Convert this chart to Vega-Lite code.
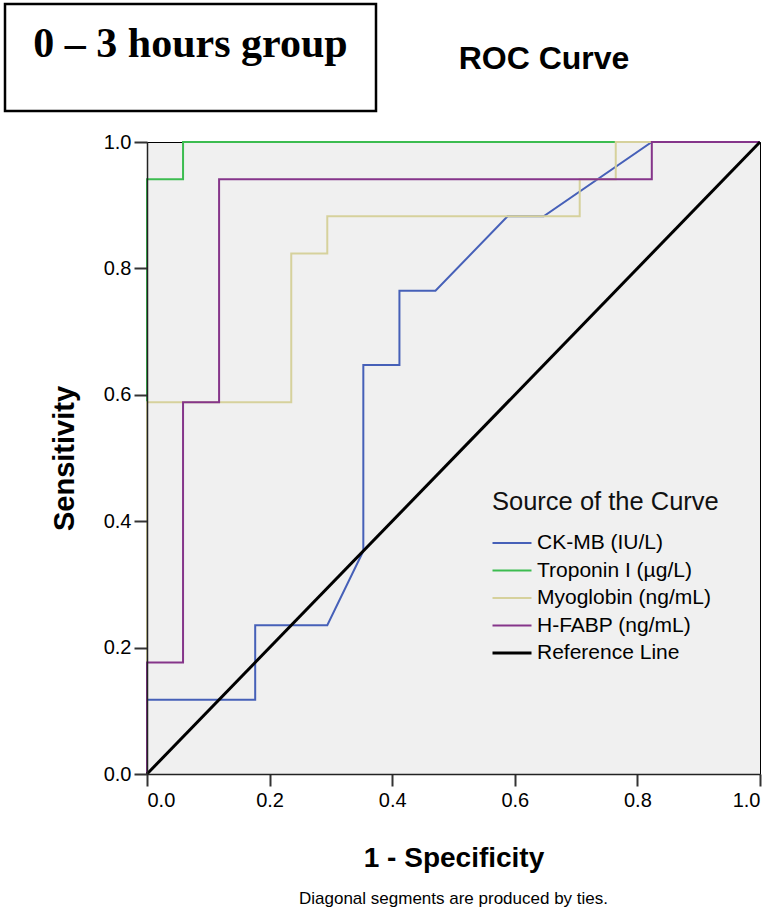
{
  "$schema": "https://vega.github.io/schema/vega-lite/v6.json",
  "padding": {"left": 3, "top": 2, "right": 0, "bottom": 0},
  "background": "white",
  "spacing": 18,
  "config": {"font": "Liberation Sans"},
  "vconcat": [
    {
      "spacing": 10,
      "hconcat": [
        {
          "width": 371,
          "height": 107,
          "view": {"stroke": "#000", "strokeWidth": 2.5, "fill": "white"},
          "data": {"values": [{"label": "0 – 3 hours group"}]},
          "mark": {"type": "text", "font": "Liberation Serif", "fontWeight": "bold", "fontSize": 42, "dy": -14, "color": "#000"},
          "encoding": {"text": {"field": "label"}}
        },
        {
          "width": 312,
          "height": 107,
          "view": {"stroke": null},
          "data": {"values": [{"label": "ROC Curve"}]},
          "mark": {"type": "text", "font": "Liberation Sans", "fontWeight": "bold", "fontSize": 32, "dy": 1, "color": "#000"},
          "encoding": {"text": {"field": "label"}}
        }
      ]
    },
    {
      "spacing": 0,
      "hconcat": [
        {
          "width": 44,
          "height": 1,
          "view": {"stroke": null},
          "data": {"values": [{"label": ""}]},
          "mark": {"type": "text"},
          "encoding": {"text": {"field": "label"}}
        },
        {
          "width": 613,
          "height": 632,
          "view": {"stroke": "#000", "strokeWidth": 1, "fill": "#F0F0F0"},
          "title": {
            "text": "Diagonal segments are produced by ties.",
            "orient": "bottom",
            "anchor": "middle",
            "frame": "group",
            "font": "Liberation Sans",
            "fontSize": 17,
            "fontWeight": "normal",
            "color": "#000",
            "offset": 19
          },
          "data": {
            "values": [
              {"series": "CK-MB (IU/L)", "i": 0, "fpr": 0, "tpr": 0},
              {"series": "CK-MB (IU/L)", "i": 1, "fpr": 0, "tpr": 0.1176},
              {"series": "CK-MB (IU/L)", "i": 2, "fpr": 0.1765, "tpr": 0.1176},
              {"series": "CK-MB (IU/L)", "i": 3, "fpr": 0.1765, "tpr": 0.2353},
              {"series": "CK-MB (IU/L)", "i": 4, "fpr": 0.2941, "tpr": 0.2353},
              {"series": "CK-MB (IU/L)", "i": 5, "fpr": 0.3529, "tpr": 0.3529},
              {"series": "CK-MB (IU/L)", "i": 6, "fpr": 0.3529, "tpr": 0.6471},
              {"series": "CK-MB (IU/L)", "i": 7, "fpr": 0.4118, "tpr": 0.6471},
              {"series": "CK-MB (IU/L)", "i": 8, "fpr": 0.4118, "tpr": 0.7647},
              {"series": "CK-MB (IU/L)", "i": 9, "fpr": 0.4706, "tpr": 0.7647},
              {"series": "CK-MB (IU/L)", "i": 10, "fpr": 0.5882, "tpr": 0.8824},
              {"series": "CK-MB (IU/L)", "i": 11, "fpr": 0.6471, "tpr": 0.8824},
              {"series": "CK-MB (IU/L)", "i": 12, "fpr": 0.8235, "tpr": 1},
              {"series": "CK-MB (IU/L)", "i": 13, "fpr": 1, "tpr": 1},
              {"series": "Troponin I (µg/L)", "i": 0, "fpr": 0, "tpr": 0},
              {"series": "Troponin I (µg/L)", "i": 1, "fpr": 0, "tpr": 0.9412},
              {"series": "Troponin I (µg/L)", "i": 2, "fpr": 0.0588, "tpr": 0.9412},
              {"series": "Troponin I (µg/L)", "i": 3, "fpr": 0.0588, "tpr": 1},
              {"series": "Troponin I (µg/L)", "i": 4, "fpr": 1, "tpr": 1},
              {"series": "Myoglobin (ng/mL)", "i": 0, "fpr": 0, "tpr": 0},
              {"series": "Myoglobin (ng/mL)", "i": 1, "fpr": 0, "tpr": 0.5882},
              {"series": "Myoglobin (ng/mL)", "i": 2, "fpr": 0.2353, "tpr": 0.5882},
              {"series": "Myoglobin (ng/mL)", "i": 3, "fpr": 0.2353, "tpr": 0.8235},
              {"series": "Myoglobin (ng/mL)", "i": 4, "fpr": 0.2941, "tpr": 0.8235},
              {"series": "Myoglobin (ng/mL)", "i": 5, "fpr": 0.2941, "tpr": 0.8824},
              {"series": "Myoglobin (ng/mL)", "i": 6, "fpr": 0.7059, "tpr": 0.8824},
              {"series": "Myoglobin (ng/mL)", "i": 7, "fpr": 0.7059, "tpr": 0.9412},
              {"series": "Myoglobin (ng/mL)", "i": 8, "fpr": 0.7647, "tpr": 0.9412},
              {"series": "Myoglobin (ng/mL)", "i": 9, "fpr": 0.7647, "tpr": 1},
              {"series": "Myoglobin (ng/mL)", "i": 10, "fpr": 1, "tpr": 1},
              {"series": "H-FABP (ng/mL)", "i": 0, "fpr": 0, "tpr": 0},
              {"series": "H-FABP (ng/mL)", "i": 1, "fpr": 0, "tpr": 0.1765},
              {"series": "H-FABP (ng/mL)", "i": 2, "fpr": 0.0588, "tpr": 0.1765},
              {"series": "H-FABP (ng/mL)", "i": 3, "fpr": 0.0588, "tpr": 0.5882},
              {"series": "H-FABP (ng/mL)", "i": 4, "fpr": 0.1176, "tpr": 0.5882},
              {"series": "H-FABP (ng/mL)", "i": 5, "fpr": 0.1176, "tpr": 0.9412},
              {"series": "H-FABP (ng/mL)", "i": 6, "fpr": 0.8235, "tpr": 0.9412},
              {"series": "H-FABP (ng/mL)", "i": 7, "fpr": 0.8235, "tpr": 1},
              {"series": "H-FABP (ng/mL)", "i": 8, "fpr": 1, "tpr": 1},
              {"series": "Reference Line", "i": 0, "fpr": 0, "tpr": 0},
              {"series": "Reference Line", "i": 1, "fpr": 1, "tpr": 1}
            ]
          },
          "mark": {"type": "line", "clip": false},
          "encoding": {
            "x": {
              "field": "fpr",
              "type": "quantitative",
              "scale": {"domain": [0, 1], "nice": false, "zero": false},
              "axis": {
                "title": "1 - Specificity",
                "values": [0, 0.2, 0.4, 0.6, 0.8, 1],
                "format": ".1f",
                "grid": false,
                "zindex": 1,
                "domainColor": "#222",
                "domainWidth": 1.5,
                "tickColor": "#333",
                "tickWidth": 2,
                "tickSize": 12,
                "labelPadding": 4,
                "labelFontSize": 20,
                "labelColor": "#000",
                "labelFont": "Liberation Sans",
                "titleFont": "Liberation Sans",
                "titleFontSize": 28,
                "titleFontWeight": "bold",
                "titleColor": "#000",
                "titlePadding": 34
              }
            },
            "y": {
              "field": "tpr",
              "type": "quantitative",
              "scale": {"domain": [0, 1], "nice": false, "zero": false},
              "axis": {
                "title": "Sensitivity",
                "values": [0, 0.2, 0.4, 0.6, 0.8, 1],
                "format": ".1f",
                "grid": false,
                "zindex": 1,
                "domainColor": "#222",
                "domainWidth": 1.5,
                "tickColor": "#333",
                "tickWidth": 2,
                "tickSize": 13,
                "labelPadding": 3,
                "labelFontSize": 20,
                "labelColor": "#000",
                "labelFont": "Liberation Sans",
                "titleFont": "Liberation Sans",
                "titleFontSize": 29,
                "titleFontWeight": "bold",
                "titleColor": "#000",
                "titlePadding": 24
              }
            },
            "color": {
              "field": "series",
              "type": "nominal",
              "scale": {
                "domain": ["CK-MB (IU/L)", "Troponin I (µg/L)", "Myoglobin (ng/mL)", "H-FABP (ng/mL)", "Reference Line"],
                "range": ["#4660b8", "#3cbc50", "#d6d19c", "#85358a", "#000000"]
              },
              "legend": {
                "title": "Source of the Curve",
                "orient": "none",
                "legendX": 487,
                "legendY": 486,
                "padding": 0,
                "titleFont": "Liberation Sans",
                "titleFontSize": 25.5,
                "titleFontWeight": "normal",
                "titleColor": "#111",
                "titlePadding": 17,
                "titleLimit": 400,
                "labelFont": "Liberation Sans",
                "labelFontSize": 21,
                "labelColor": "#000",
                "labelLimit": 400,
                "labelOffset": 24,
                "symbolType": "M-1,0H2.9",
                "symbolSize": 400,
                "symbolStrokeWidth": 2,
                "rowPadding": 5.5,
                "encode": {
                  "symbols": {"update": {"strokeWidth": {"signal": "datum.value === 'Reference Line' ? 3 : 2"}}}
                }
              }
            },
            "strokeWidth": {
              "condition": {"test": "datum.series === 'Reference Line'", "value": 3},
              "value": 2
            },
            "order": {"field": "i", "type": "quantitative"}
          }
        }
      ]
    }
  ]
}
